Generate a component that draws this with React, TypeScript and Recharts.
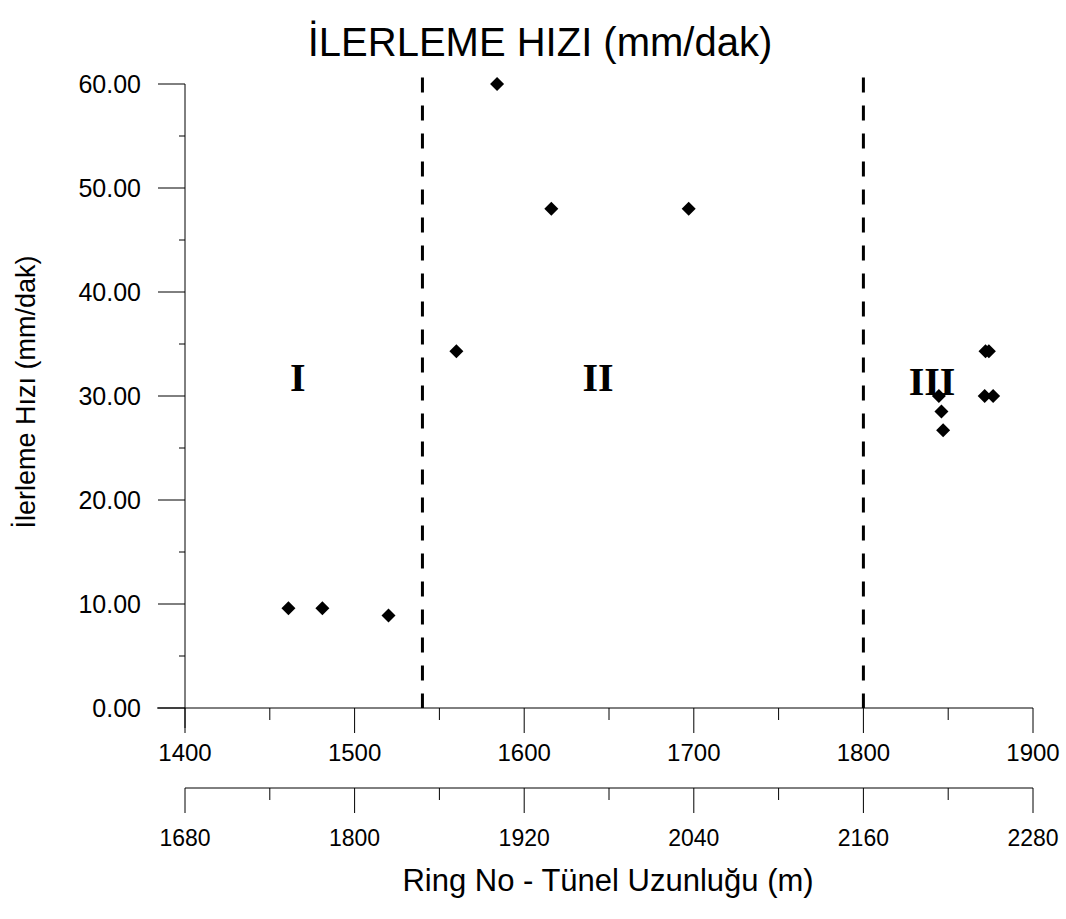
import { ScatterChart, Scatter, XAxis, YAxis, ReferenceLine, ReferenceDot } from 'recharts';

// ring numbers and advance rate (mm/dak)
const ringNo = [1461, 1481, 1520, 1560, 1584, 1616, 1697, 1844.5, 1846, 1847, 1872, 1874, 1871.5, 1876.5];
const rate = [9.6, 9.6, 8.9, 34.3, 60, 48, 48, 30, 28.5, 26.7, 34.3, 34.3, 30, 30];

const ringTicks = [1400, 1450, 1500, 1550, 1600, 1650, 1700, 1750, 1800, 1850, 1900];
const lengthTicks = [1680, 1740, 1800, 1860, 1920, 1980, 2040, 2100, 2160, 2220, 2280];
const rateTicks = [0, 5, 10, 15, 20, 25, 30, 35, 40, 45, 50, 55, 60];

// tunnel length (m) per ring
const metresPerRing = 1.2;

// zone boundaries (ring no)
const zoneBounds = [1540, 1800];
const zoneNames = ['I', 'II', 'III'];
const zoneLabelRing = [1466.5, 1643.5, 1840.5];
const zoneLabelRate = [31.8, 31.8, 31.5];

const data = ringNo.map((r, i) => ({ ring: r, len: r * metresPerRing, rate: rate[i] }));

const sans = 'Liberation Sans, Arial, sans-serif';

const Diamond = (p: any) => {
  const { cx, cy } = p;
  return <polygon points={`${cx - 7},${cy} ${cx},${cy - 7} ${cx + 7},${cy} ${cx},${cy + 7}`} fill="#000" />;
};

const RingTick = (p: any) => {
  const { x, y, payload } = p;
  const v = payload.value;
  const major = v % 100 === 0;
  return (
    <g>
      {v === 1400 && <line x1={x - 28} y1={y} x2={x} y2={y} stroke="#000" />}
      <line x1={x} y1={y} x2={x} y2={y + (major ? 25 : 12)} stroke="#000" />
      {major && (
        <text x={x} y={y + 44} textAnchor="middle" dominantBaseline="central" fontFamily={sans} fontSize={24} fill="#000">
          {v}
        </text>
      )}
    </g>
  );
};

const LengthTick = (p: any) => {
  const { x, y, payload } = p;
  const v = payload.value;
  const major = (v - 1680) % 120 === 0;
  return (
    <g>
      <line x1={x} y1={y} x2={x} y2={y + (major ? 25 : 12)} stroke="#000" />
      {major && (
        <text x={x} y={y + 50} textAnchor="middle" dominantBaseline="central" fontFamily={sans} fontSize={23} fill="#000">
          {v}
        </text>
      )}
    </g>
  );
};

const RateTick = (p: any) => {
  const { x, y, payload } = p;
  const v = payload.value;
  const major = v % 10 === 0;
  return (
    <g>
      {v === 0 && <line x1={x} y1={y} x2={x} y2={y + 20} stroke="#000" />}
      <line x1={x - (major ? 27 : 6)} y1={y} x2={x} y2={y} stroke="#000" />
      {major && (
        <text x={x - 44} y={y} textAnchor="end" dominantBaseline="central" fontFamily={sans} fontSize={25} fill="#000">
          {v.toFixed(2)}
        </text>
      )}
    </g>
  );
};

export default function App() {
  return (
    <div style={{ position: 'absolute', left: 0, top: 0, width: 1066, height: 919, background: '#fff' }}>
      <ScatterChart width={1066} height={919} margin={{ top: 84, right: 33, left: 0, bottom: 0 }}>
        <XAxis
          xAxisId="a"
          dataKey="ring"
          type="number"
          domain={[1400, 1900]}
          ticks={ringTicks}
          interval={0}
          tick={<RingTick />}
          tickLine={false}
          tickSize={0}
          tickMargin={0}
          axisLine={{ stroke: '#000' }}
          height={80}
        />
        <XAxis
          xAxisId="b"
          dataKey="len"
          type="number"
          domain={[1680, 2280]}
          ticks={lengthTicks}
          interval={0}
          tick={<LengthTick />}
          tickLine={false}
          tickSize={0}
          tickMargin={0}
          axisLine={{ stroke: '#000' }}
          height={131}
        />
        <YAxis
          dataKey="rate"
          type="number"
          domain={[0, 60]}
          ticks={rateTicks}
          interval={0}
          tick={<RateTick />}
          tickLine={false}
          tickSize={0}
          tickMargin={0}
          axisLine={{ stroke: '#000' }}
          width={185}
        />
        {zoneBounds.map((b) => (
          <ReferenceLine
            key={b}
            xAxisId="a"
            segment={[{ x: b, y: 60.63 }, { x: b, y: 0 }]}
            ifOverflow="visible"
            stroke="#000"
            strokeWidth={3}
            strokeDasharray="15 13"
          />
        ))}
        {zoneNames.map((n, i) => (
          <ReferenceDot
            key={n}
            xAxisId="a"
            x={zoneLabelRing[i]}
            y={zoneLabelRate[i]}
            r={0}
            stroke="none"
            label={{
              value: n,
              position: 'center',
              fill: '#000',
              fontFamily: 'Liberation Serif, Times New Roman, serif',
              fontWeight: 'bold',
              fontSize: 40,
            }}
          />
        ))}
        {/* same points on the tunnel-length axis, not drawn; keeps that axis alive */}
        <Scatter xAxisId="b" data={data} shape={() => <g />} isAnimationActive={false} />
        <Scatter xAxisId="a" data={data} shape={<Diamond />} isAnimationActive={false} />
      </ScatterChart>
      <svg width={1066} height={919} style={{ position: 'absolute', left: 0, top: 0, pointerEvents: 'none' }}>
        <text x={540} y={42} textAnchor="middle" dominantBaseline="central" fontFamily={sans} fontSize={40} fill="#000">
          İLERLEME HIZI (mm/dak)
        </text>
        <text
          x={26}
          y={392}
          transform="rotate(-90 26 392)"
          textAnchor="middle"
          dominantBaseline="central"
          fontFamily={sans}
          fontSize={27}
          fill="#000"
        >
          İlerleme Hızı (mm/dak)
        </text>
        <text x={608} y={880} textAnchor="middle" dominantBaseline="central" fontFamily={sans} fontSize={31} fill="#000">
          Ring No - Tünel Uzunluğu (m)
        </text>
      </svg>
    </div>
  );
}
